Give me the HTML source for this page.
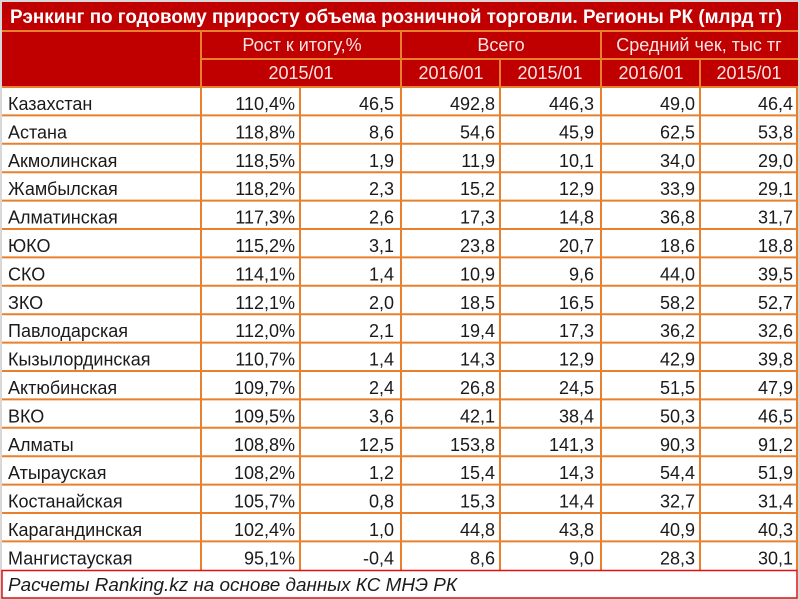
<!DOCTYPE html>
<html><head><meta charset="utf-8"><style>
html,body{margin:0;padding:0;background:#fff;}
svg{display:block;}
text{font-family:"Liberation Sans","DejaVu Sans",sans-serif;}
</style></head><body>
<svg width="800" height="600" viewBox="0 0 800 600" xmlns="http://www.w3.org/2000/svg">
<rect x="0" y="0" width="800" height="600" fill="#ffffff"/>
<rect x="0" y="0" width="800" height="600" fill="none" stroke="#d8d8d8" stroke-width="4"/>
<rect x="2" y="2" width="796" height="85" fill="#c00000"/>
<g stroke="#e8802e" stroke-width="2" fill="none">
<line x1="2" y1="31" x2="798" y2="31"/>
<line x1="201" y1="59" x2="798" y2="59"/>
<line x1="2" y1="87" x2="798" y2="87"/>
<line x1="201" y1="31" x2="201" y2="570"/>
<line x1="401" y1="31" x2="401" y2="570"/>
<line x1="601" y1="31" x2="601" y2="570"/>
<line x1="500" y1="59" x2="500" y2="570"/>
<line x1="700" y1="59" x2="700" y2="570"/>
<line x1="300" y1="87" x2="300" y2="570"/>
<line x1="797" y1="87" x2="797" y2="570"/>
<line x1="2" y1="115.4" x2="798" y2="115.4"/>
<line x1="2" y1="143.8" x2="798" y2="143.8"/>
<line x1="2" y1="172.2" x2="798" y2="172.2"/>
<line x1="2" y1="200.6" x2="798" y2="200.6"/>
<line x1="2" y1="229" x2="798" y2="229"/>
<line x1="2" y1="257.4" x2="798" y2="257.4"/>
<line x1="2" y1="285.8" x2="798" y2="285.8"/>
<line x1="2" y1="314.2" x2="798" y2="314.2"/>
<line x1="2" y1="342.6" x2="798" y2="342.6"/>
<line x1="2" y1="371" x2="798" y2="371"/>
<line x1="2" y1="399.4" x2="798" y2="399.4"/>
<line x1="2" y1="427.8" x2="798" y2="427.8"/>
<line x1="2" y1="456.2" x2="798" y2="456.2"/>
<line x1="2" y1="484.6" x2="798" y2="484.6"/>
<line x1="2" y1="513" x2="798" y2="513"/>
<line x1="2" y1="541.4" x2="798" y2="541.4"/>
</g>
<rect x="2" y="570.5" width="795" height="27.5" fill="none" stroke="#e01010" stroke-width="1.5"/>

<text x="10" y="23" font-size="19" font-weight="bold" fill="#ffffff" textLength="772" lengthAdjust="spacingAndGlyphs">Рэнкинг по годовому приросту объема розничной торговли. Регионы РК (млрд тг)</text>
<g fill="#fbe4e4" font-size="18" text-anchor="middle">
<text x="302" y="51">Рост к итогу,%</text>
<text x="501" y="51">Всего</text>
<text x="699" y="51">Средний чек, тыс тг</text>
<text x="301" y="79">2015/01</text>
<text x="451" y="79">2016/01</text>
<text x="550" y="79">2015/01</text>
<text x="651" y="79">2016/01</text>
<text x="749" y="79">2015/01</text>
</g>

<g font-size="18" fill="#1a1a1a">
<g>
<text x="8" y="110">Казахстан</text>
<text x="8" y="138.4">Астана</text>
<text x="8" y="166.8">Акмолинская</text>
<text x="8" y="195.2">Жамбылская</text>
<text x="8" y="223.6">Алматинская</text>
<text x="8" y="252">ЮКО</text>
<text x="8" y="280.4">СКО</text>
<text x="8" y="308.8">ЗКО</text>
<text x="8" y="337.2">Павлодарская</text>
<text x="8" y="365.6">Кызылординская</text>
<text x="8" y="394">Актюбинская</text>
<text x="8" y="422.4">ВКО</text>
<text x="8" y="450.8">Алматы</text>
<text x="8" y="479.2">Атырауская</text>
<text x="8" y="507.6">Костанайская</text>
<text x="8" y="536">Карагандинская</text>
<text x="8" y="564.4">Мангистауская</text>
</g>
<g text-anchor="end">
<text x="295" y="110">110,4%</text><text x="394" y="110">46,5</text><text x="495" y="110">492,8</text><text x="594" y="110">446,3</text><text x="695" y="110">49,0</text><text x="793" y="110">46,4</text>
<text x="295" y="138.4">118,8%</text><text x="394" y="138.4">8,6</text><text x="495" y="138.4">54,6</text><text x="594" y="138.4">45,9</text><text x="695" y="138.4">62,5</text><text x="793" y="138.4">53,8</text>
<text x="295" y="166.8">118,5%</text><text x="394" y="166.8">1,9</text><text x="495" y="166.8">11,9</text><text x="594" y="166.8">10,1</text><text x="695" y="166.8">34,0</text><text x="793" y="166.8">29,0</text>
<text x="295" y="195.2">118,2%</text><text x="394" y="195.2">2,3</text><text x="495" y="195.2">15,2</text><text x="594" y="195.2">12,9</text><text x="695" y="195.2">33,9</text><text x="793" y="195.2">29,1</text>
<text x="295" y="223.6">117,3%</text><text x="394" y="223.6">2,6</text><text x="495" y="223.6">17,3</text><text x="594" y="223.6">14,8</text><text x="695" y="223.6">36,8</text><text x="793" y="223.6">31,7</text>
<text x="295" y="252">115,2%</text><text x="394" y="252">3,1</text><text x="495" y="252">23,8</text><text x="594" y="252">20,7</text><text x="695" y="252">18,6</text><text x="793" y="252">18,8</text>
<text x="295" y="280.4">114,1%</text><text x="394" y="280.4">1,4</text><text x="495" y="280.4">10,9</text><text x="594" y="280.4">9,6</text><text x="695" y="280.4">44,0</text><text x="793" y="280.4">39,5</text>
<text x="295" y="308.8">112,1%</text><text x="394" y="308.8">2,0</text><text x="495" y="308.8">18,5</text><text x="594" y="308.8">16,5</text><text x="695" y="308.8">58,2</text><text x="793" y="308.8">52,7</text>
<text x="295" y="337.2">112,0%</text><text x="394" y="337.2">2,1</text><text x="495" y="337.2">19,4</text><text x="594" y="337.2">17,3</text><text x="695" y="337.2">36,2</text><text x="793" y="337.2">32,6</text>
<text x="295" y="365.6">110,7%</text><text x="394" y="365.6">1,4</text><text x="495" y="365.6">14,3</text><text x="594" y="365.6">12,9</text><text x="695" y="365.6">42,9</text><text x="793" y="365.6">39,8</text>
<text x="295" y="394">109,7%</text><text x="394" y="394">2,4</text><text x="495" y="394">26,8</text><text x="594" y="394">24,5</text><text x="695" y="394">51,5</text><text x="793" y="394">47,9</text>
<text x="295" y="422.4">109,5%</text><text x="394" y="422.4">3,6</text><text x="495" y="422.4">42,1</text><text x="594" y="422.4">38,4</text><text x="695" y="422.4">50,3</text><text x="793" y="422.4">46,5</text>
<text x="295" y="450.8">108,8%</text><text x="394" y="450.8">12,5</text><text x="495" y="450.8">153,8</text><text x="594" y="450.8">141,3</text><text x="695" y="450.8">90,3</text><text x="793" y="450.8">91,2</text>
<text x="295" y="479.2">108,2%</text><text x="394" y="479.2">1,2</text><text x="495" y="479.2">15,4</text><text x="594" y="479.2">14,3</text><text x="695" y="479.2">54,4</text><text x="793" y="479.2">51,9</text>
<text x="295" y="507.6">105,7%</text><text x="394" y="507.6">0,8</text><text x="495" y="507.6">15,3</text><text x="594" y="507.6">14,4</text><text x="695" y="507.6">32,7</text><text x="793" y="507.6">31,4</text>
<text x="295" y="536">102,4%</text><text x="394" y="536">1,0</text><text x="495" y="536">44,8</text><text x="594" y="536">43,8</text><text x="695" y="536">40,9</text><text x="793" y="536">40,3</text>
<text x="295" y="564.4">95,1%</text><text x="394" y="564.4">-0,4</text><text x="495" y="564.4">8,6</text><text x="594" y="564.4">9,0</text><text x="695" y="564.4">28,3</text><text x="793" y="564.4">30,1</text>
</g>
<text x="8" y="591" font-style="italic" textLength="449" lengthAdjust="spacingAndGlyphs">Расчеты Ranking.kz на основе данных КС МНЭ РК</text>
</g>
</svg>
</body></html>
